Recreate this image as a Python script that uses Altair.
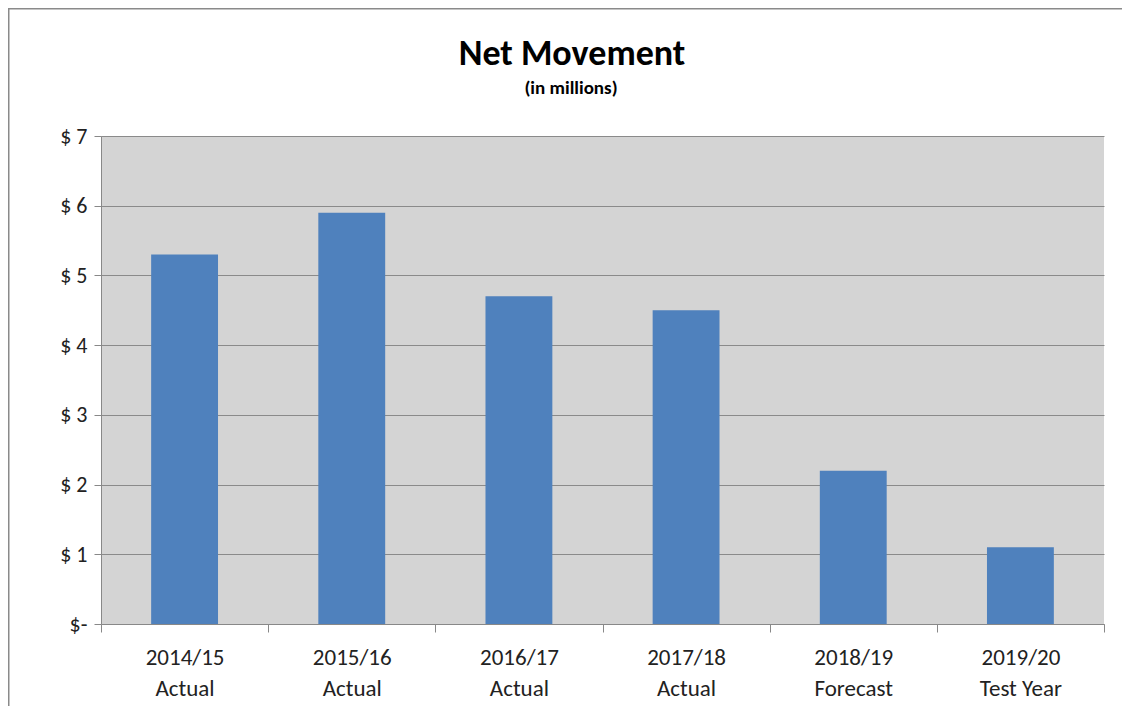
import altair as alt
import pandas as pd

years = ["2014/15", "2015/16", "2016/17", "2017/18", "2018/19", "2019/20"]
kinds = ["Actual", "Actual", "Actual", "Actual", "Forecast", "Test Year"]
values = [5.3, 5.9, 4.7, 4.5, 2.2, 1.1]
y_ticks = [0, 1, 2, 3, 4, 5, 6, 7]
title_text = "Net Movement"
subtitle_text = "(in millions)"

df = pd.DataFrame({
    "cat": [f"{y}\n{k}" for y, k in zip(years, kinds)],
    "value": values,
})

FONT = "Carlito, Calibri, Lato"
W, H = 1003, 488
PAD = {"left": 93, "top": 128, "right": 18, "bottom": 82}

bars = alt.Chart(df).mark_bar(color="#4f81bd", width=alt.RelativeBandSize(0.4)).encode(
    x=alt.X("cat:N", sort=None, title=None,
            scale=alt.Scale(paddingInner=0, paddingOuter=0),
            axis=alt.Axis(labelExpr="split(datum.label, '\\n')", labelAngle=0,
                          labelFontSize=23, labelFont=FONT, labelColor="#222222",
                          labelLineHeight=31, labelPadding=14,
                          tickBand="extent", tickSize=8, tickColor="#888888",
                          domainColor="#888888", grid=False)),
    y=alt.Y("value:Q", title=None,
            scale=alt.Scale(domain=[0, 7], nice=False),
            axis=alt.Axis(values=y_ticks,
                          labelExpr="datum.value == 0 ? '$-' : '$ ' + datum.value",
                          labelFontSize=22, labelFont=FONT, labelColor="#222222",
                          labelPadding=7, tickSize=7, tickColor="#888888",
                          domainColor="#888888", grid=True, gridColor="#8a8a8a",
                          gridWidth=1.2)),
)

one = pd.DataFrame({"a": [0]})

border = alt.Chart(one).mark_rect(
    fill=None, stroke="#8a8a8a", strokeWidth=2
).encode(
    x=alt.value(-PAD["left"] + 0.5), x2=alt.value(W + 200),
    y=alt.value(-PAD["top"] + 0.5), y2=alt.value(H + 300),
)

title = alt.Chart(one).mark_text(
    text=title_text, font=FONT, fontSize=36, fontWeight="bold",
    color="#000000", align="center", baseline="alphabetic",
).encode(x=alt.value(471), y=alt.value(-71))

subtitle = alt.Chart(one).mark_text(
    text=subtitle_text, font=FONT, fontSize=19, fontWeight="bold",
    color="#000000", align="center", baseline="alphabetic",
).encode(x=alt.value(470), y=alt.value(-42))

chart = alt.layer(bars, border, title, subtitle).properties(
    width=W, height=H,
    autosize=alt.AutoSizeParams(type="none"),
    padding=PAD,
).configure_view(fill="#d4d4d4", stroke=None)

chart.save("out.html", embed_options={"renderer": "svg", "actions": False})
